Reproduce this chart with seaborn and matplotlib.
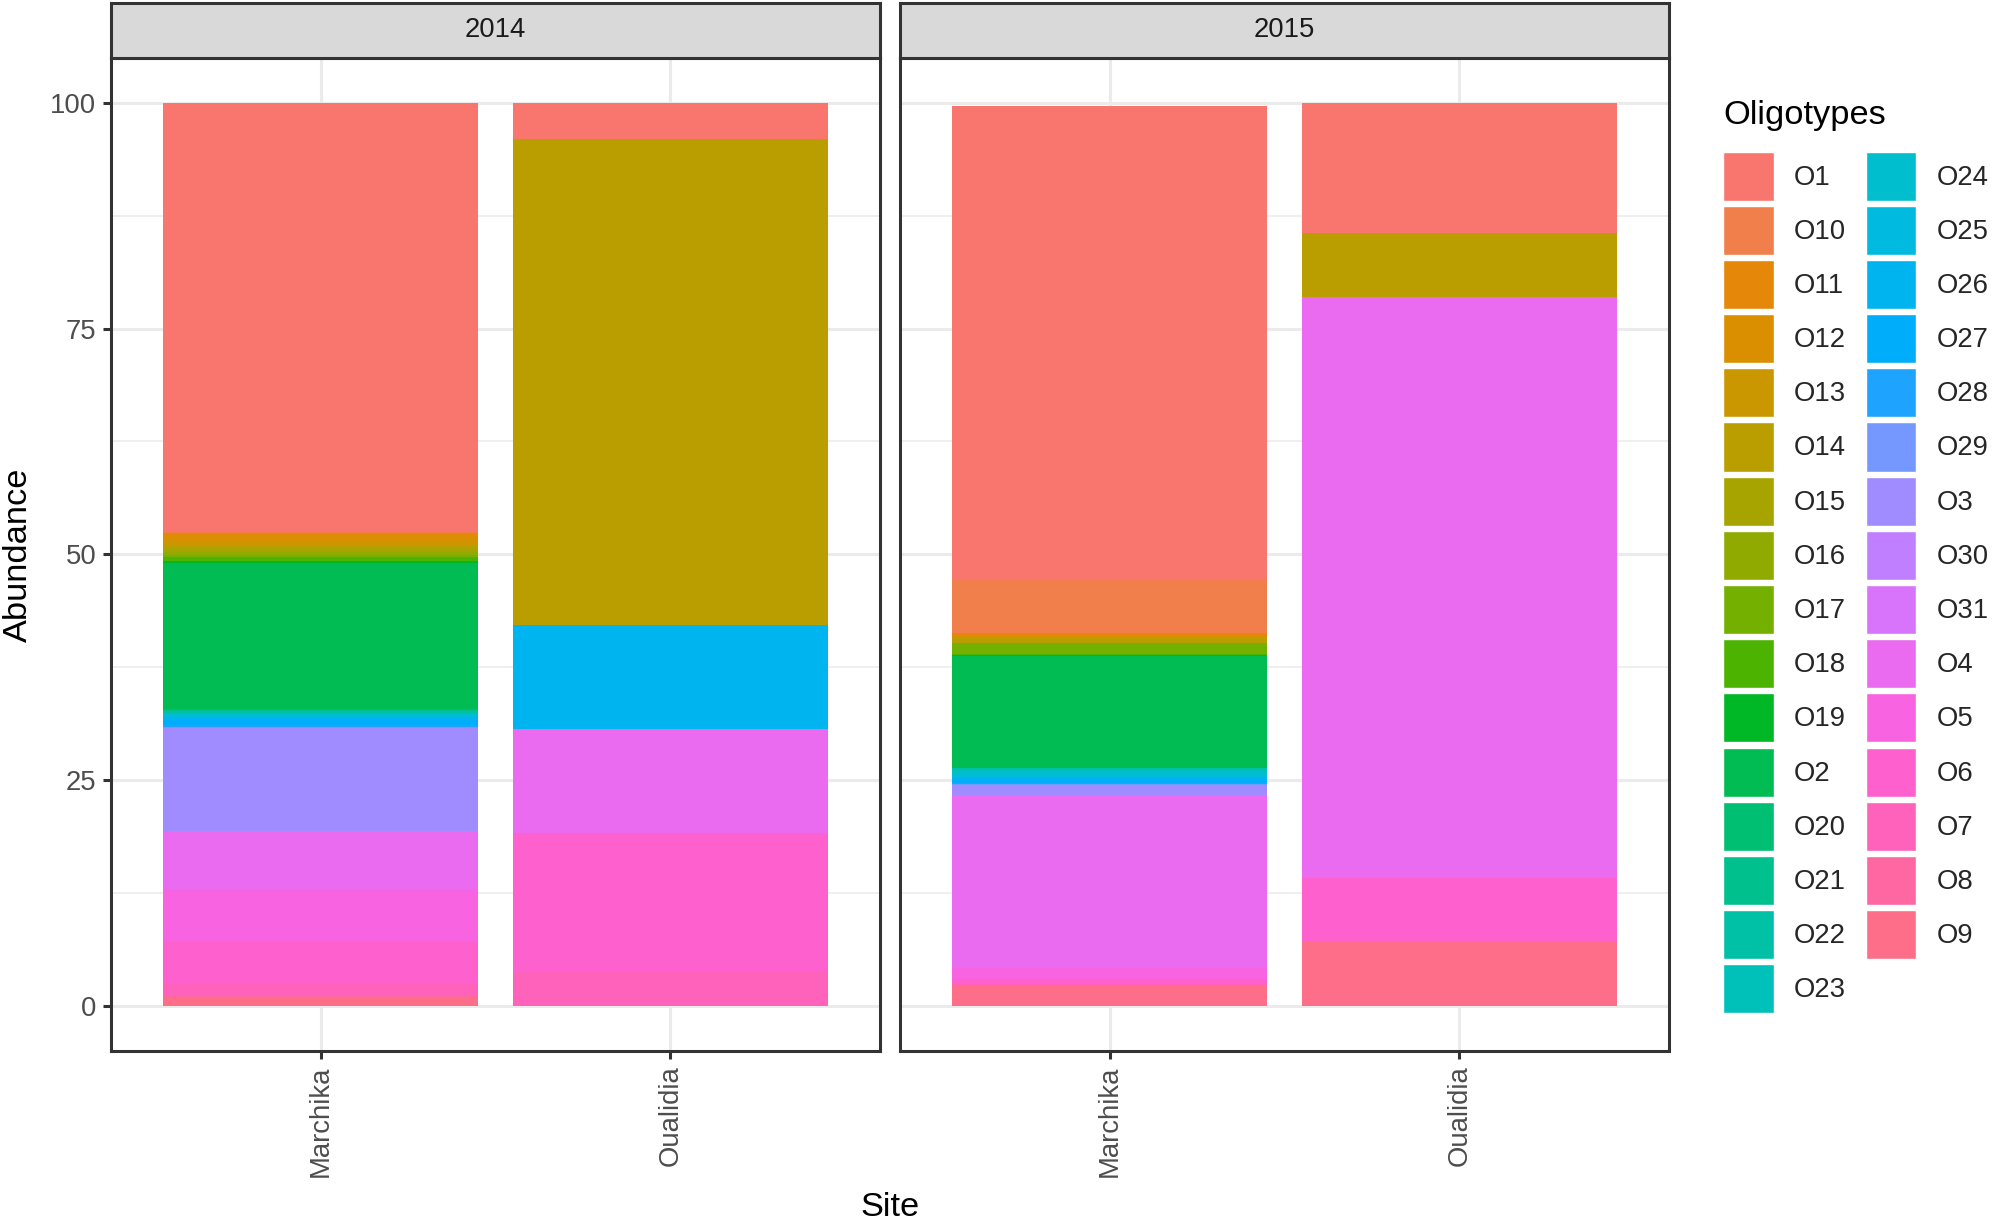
import matplotlib

matplotlib.use("Agg")

import matplotlib.pyplot as plt
import numpy as np
import pandas as pd
import seaborn as sns
from matplotlib.patches import Patch

# legend / factor order (alphabetical, as in the original)
OLIGOTYPES = [
    "O1", "O10", "O11", "O12", "O13", "O14", "O15", "O16", "O17", "O18", "O19",
    "O2", "O20", "O21", "O22", "O23", "O24", "O25", "O26", "O27", "O28", "O29",
    "O3", "O30", "O31", "O4", "O5", "O6", "O7", "O8", "O9",
]
SITES = ["Marchika", "Oualidia"]
YEARS = ["2014", "2015"]

# abundance (%) per oligotype, same order as OLIGOTYPES
MARCHIKA_2014 = [47.54, 0.06, 0.40, 0.50, 0.50, 0.35, 0.35, 0.35, 0.30, 0.35, 0.30,
                 16.15, 0.10, 0.15, 0.15, 0.15, 0.10, 0.20, 0.30, 0.60, 0.20, 0.10,
                 11.40, 0.10, 0.10, 6.30, 5.70, 4.80, 1.20, 0.30, 0.90]
OUALIDIA_2014 = [4.05, 0, 0, 0, 0, 53.75, 0, 0, 0, 0, 0,
                 0, 0, 0, 0, 0, 0, 0, 11.52, 0, 0, 0,
                 0, 0, 0, 11.51, 0, 15.34, 3.83, 0, 0]
MARCHIKA_2015 = [52.58, 5.85, 0.20, 0.17, 0, 0.66, 0, 0, 1.29, 0.10, 0.09,
                 12.39, 0, 0, 0.10, 0.35, 0.40, 0.20, 0.17, 0.44, 0.10, 0.10,
                 1.10, 0.05, 0.05, 19.13, 1.22, 0.50, 0.27, 0, 2.17]
OUALIDIA_2015 = [14.43, 0, 0, 0, 0, 7.13, 0, 0, 0, 0, 0,
                 0, 0, 0, 0, 0, 0, 0, 0, 0, 0, 0,
                 0, 0, 0, 64.24, 0, 7.10, 0, 0, 7.10]

LINE_SCALE = 2.13  # ggplot line pt -> matplotlib pt at this output size
TEXT_SCALE = 2.25  # ggplot font pt -> matplotlib pt
W, H = 2006, 1228


def hcl_to_hex(h: float, c: float = 100.0, l: float = 65.0) -> str:
    # polar CIE-Luv -> sRGB (same as R's hcl(), used by ggplot's hue palette)
    xn, yn, zn = 95.047, 100.0, 108.883
    hr = np.deg2rad(h)
    u, v = c * np.cos(hr), c * np.sin(hr)
    denom = xn + 15 * yn + 3 * zn
    un, vn = 4 * xn / denom, 9 * yn / denom
    y = yn * ((l + 16) / 116) ** 3
    up, vp = u / (13 * l) + un, v / (13 * l) + vn
    x = 9 * y * up / (4 * vp)
    z = -x / 3 - 5 * y + 3 * y / vp
    m = np.array([[3.2404542, -1.5371385, -0.4985314],
                  [-0.9692660, 1.8760108, 0.0415560],
                  [0.0556434, -0.2040259, 1.0572252]])
    rgb = m @ (np.array([x, y, z]) / 100)
    rgb = np.where(rgb <= 0.0031308, 12.92 * rgb, 1.055 * np.power(np.clip(rgb, 0, None), 1 / 2.4) - 0.055)
    rgb = np.clip(rgb, 0, 1)
    return "#" + "".join(f"{int(round(ch * 255)):02X}" for ch in rgb)


def hue_palette(n: int) -> list[str]:
    hues = np.linspace(15, 375, n + 1)[:-1]
    return [hcl_to_hex(h % 360) for h in hues]


def build_frame() -> pd.DataFrame:
    rows = []
    table = {("2014", "Marchika"): MARCHIKA_2014, ("2014", "Oualidia"): OUALIDIA_2014,
             ("2015", "Marchika"): MARCHIKA_2015, ("2015", "Oualidia"): OUALIDIA_2015}
    for (year, site), values in table.items():
        for olig, val in zip(OLIGOTYPES, values):
            rows.append({"Year": year, "Site": site, "Oligotype": olig, "Abundance": val})
    data = pd.DataFrame(rows)
    # ggplot stacks the first level on top -> cumulate from the last level upward
    data["rank"] = data["Oligotype"].map({o: i for i, o in enumerate(OLIGOTYPES)})
    data = data.sort_values(["Year", "Site", "rank"], ascending=[True, True, False])
    data["Top"] = data.groupby(["Year", "Site"])["Abundance"].cumsum()
    return data


def main() -> None:
    sns.set_theme(style="white")
    plt.rcParams["font.family"] = ["Liberation Sans", "DejaVu Sans"]

    data = build_frame()
    colors = hue_palette(len(OLIGOTYPES))

    fig = plt.figure(figsize=(W / 100, H / 100), dpi=100)
    lefts = [111 / W, 900 / W]
    width = 769 / W
    panel_top, panel_bottom = 57.6, 1051
    bottom = 1 - panel_bottom / H
    height = (panel_bottom - panel_top) / H
    line_w = 1.03 * LINE_SCALE
    dark = "#333333"
    small = 8.8 * TEXT_SCALE
    big = 11 * TEXT_SCALE

    for idx, (year, left) in enumerate(zip(YEARS, lefts)):
        ax = fig.add_axes([left, bottom, width, height])
        sub = data[data["Year"] == year]
        for olig, color in zip(OLIGOTYPES, colors):
            seg = sub[sub["Oligotype"] == olig]
            sns.barplot(data=seg, x="Site", y="Top", order=SITES, color=color,
                        saturation=1, width=0.9, linewidth=0, errorbar=None, ax=ax)
        ax.set_xlim(-0.6, 1.6)
        ax.set_ylim(-5, 105)
        ax.set_yticks([0, 25, 50, 75, 100])
        ax.set_yticks([12.5, 37.5, 62.5, 87.5], minor=True)
        ax.set_axisbelow(True)
        ax.grid(True, which="major", color="#EBEBEB", linewidth=line_w)
        ax.grid(True, which="minor", axis="y", color="#EBEBEB", linewidth=line_w / 2)
        ax.set_xlabel("")
        ax.set_ylabel("")
        for spine in ax.spines.values():
            spine.set_visible(True)
            spine.set_color(dark)
            spine.set_linewidth(line_w)
        ax.tick_params(axis="both", which="major", length=2.75 * LINE_SCALE, width=line_w,
                       color=dark, labelcolor="#4D4D4D", labelsize=small, pad=2.2 * LINE_SCALE,
                       bottom=True, left=True)
        ax.tick_params(axis="both", which="minor", length=0)
        ax.tick_params(axis="x", labelrotation=90)
        if idx == 1:
            ax.tick_params(axis="y", left=False, labelleft=False)

        # facet strip
        strip = fig.add_axes([left, 1 - panel_top / H, width, (panel_top - 2.6) / H])
        strip.set_facecolor("#D9D9D9")
        strip.set_xticks([])
        strip.set_yticks([])
        for spine in strip.spines.values():
            spine.set_visible(True)
            spine.set_color(dark)
            spine.set_linewidth(line_w)
        strip.text(0.5, 0.5, year, ha="center", va="center", color="#1A1A1A",
                   fontsize=small, transform=strip.transAxes)

    fig.text((111 + 1669) / 2 / W, 1 - 1208 / H, "Site", ha="center", va="center",
             fontsize=big, color="black")
    fig.text(18 / W, 1 - 555 / H, "Abundance", ha="center", va="center",
             rotation=90, fontsize=big, color="black")

    # legend: title as separate text so the gap to the keys matches ggplot
    fig.text(1723 / W, 1 - 124 / H, "Oligotypes", ha="left", va="baseline",
             fontsize=big, color="black")
    handles = [Patch(facecolor=c, edgecolor="white", linewidth=1.0) for c in colors]
    fig.legend(handles, OLIGOTYPES, ncol=2, frameon=False,
               loc="upper left", bbox_to_anchor=(1723 / W, 1 - 151.5 / H),
               fontsize=small, handlelength=1.85, handleheight=2.37, labelspacing=0.185,
               handletextpad=0.73, columnspacing=0.71, borderpad=0, borderaxespad=0)

    fig.savefig("out.png", dpi=100)
    plt.close(fig)


if __name__ == "__main__":
    main()
